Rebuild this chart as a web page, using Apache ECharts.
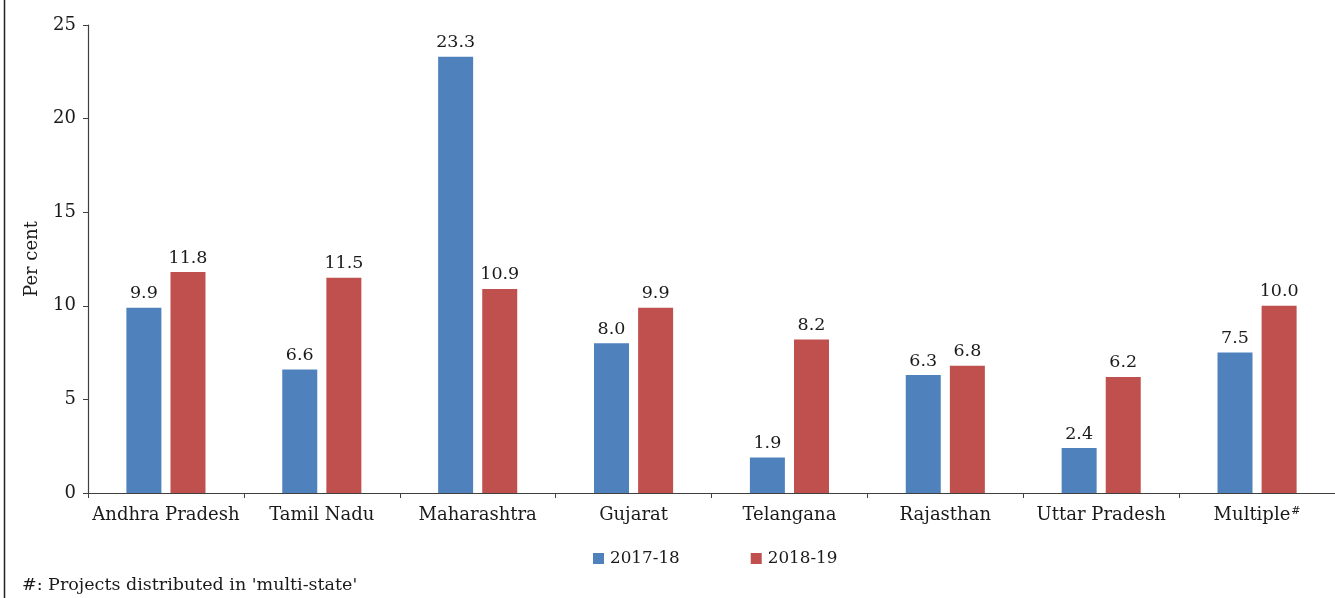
<!DOCTYPE html>
<html>
<head>
<meta charset="utf-8">
<script src="https://cdn.jsdelivr.net/npm/echarts@6/dist/echarts.min.js"></script>
<style>
  html, body { margin: 0; padding: 0; background: #fff; }
  #chart { width: 1335px; height: 598px; }
</style>
</head>
<body>
<div id="chart"></div>
<script>
const states = ['Andhra Pradesh', 'Tamil Nadu', 'Maharashtra', 'Gujarat', 'Telangana', 'Rajasthan', 'Uttar Pradesh', 'Multiple#']
const share1718 = [9.9, 6.6, 23.3, 8.0, 1.9, 6.3, 2.4, 7.5]
const share1819 = [11.8, 11.5, 10.9, 9.9, 8.2, 6.8, 6.2, 10.0]
const yTicks = [0, 5, 10, 15, 20, 25]

const serif = "'DejaVu Serif', 'Liberation Serif', serif"
const axisColor = '#404040'
const textColor = '#1a1a1a'

const chart = echarts.init(document.getElementById('chart'))

const labelStyle = {
  show: true,
  position: 'top',
  distance: 5,
  fontFamily: serif,
  fontSize: 17.5,
  color: textColor,
  formatter: p => p.value.toFixed(1)
}

chart.setOption({
  animation: false,
  grid: { left: 88, right: 0, top: 25, bottom: 105, containLabel: false },
  legend: {
    bottom: 26,
    left: 588,
    itemWidth: 11,
    itemHeight: 11,
    itemGap: 71,
    icon: 'rect',
    textStyle: { fontFamily: serif, fontSize: 16.8, color: textColor, padding: [0, 0, 0, 1] },
    data: ['2017-18', '2018-19']
  },
  xAxis: {
    type: 'category',
    data: states,
    axisLine: { lineStyle: { color: axisColor, width: 1.2 } },
    axisTick: { show: true, length: 5, lineStyle: { color: axisColor } },
    axisLabel: {
      margin: 13,
      fontFamily: serif,
      fontSize: 18,
      color: textColor,
      interval: 0,
      formatter: v => v.endsWith('#') ? v.slice(0, -1) + '{sup|#}' : v,
      rich: { sup: { fontFamily: serif, fontSize: 11, color: textColor, verticalAlign: 'top', padding: [0, 0, 8, 1] } }
    }
  },
  yAxis: {
    type: 'value',
    min: yTicks[0],
    max: yTicks[yTicks.length - 1],
    interval: 5,
    name: 'Per cent',
    nameLocation: 'middle',
    nameGap: 47,
    nameTextStyle: { fontFamily: serif, fontSize: 18, color: textColor },
    axisLine: { show: true, lineStyle: { color: axisColor, width: 1.2 } },
    axisTick: { show: true, length: 5, lineStyle: { color: axisColor } },
    axisLabel: { margin: 12, fontFamily: serif, fontSize: 18, color: textColor },
    splitLine: { show: false }
  },
  series: [
    {
      name: '2017-18',
      type: 'bar',
      data: share1718,
      barWidth: 35,
      barGap: '26%',
      itemStyle: { color: '#4F81BD' },
      label: labelStyle
    },
    {
      name: '2018-19',
      type: 'bar',
      data: share1819,
      barWidth: 35,
      itemStyle: { color: '#C0504D' },
      label: labelStyle
    }
  ],
  graphic: [
    {
      type: 'line',
      shape: { x1: 4.5, y1: 0, x2: 4.5, y2: 598 },
      style: { stroke: '#222', lineWidth: 1.5 }
    },
    {
      type: 'text',
      left: 22,
      top: 576,
      style: { text: "#: Projects distributed in 'multi-state'", font: "17.5px " + serif, fill: textColor }
    }
  ]
})

window.addEventListener('resize', () => chart.resize())
</script>
</body>
</html>
